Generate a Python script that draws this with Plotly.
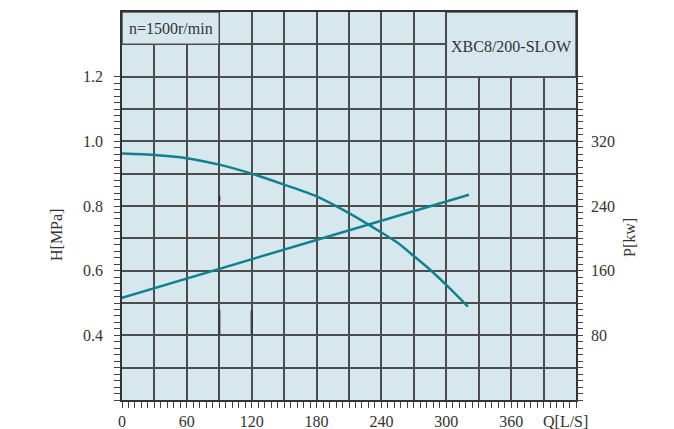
import numpy as np
import plotly.graph_objects as go

# ---- data ----
q_h = [0, 30, 60, 90, 120, 150, 180, 210, 240, 255, 270, 285, 300, 320]
h_vals = [0.962, 0.958, 0.948, 0.928, 0.900, 0.866, 0.830, 0.778, 0.718, 0.686, 0.645, 0.603, 0.556, 0.489]
q_p = [0, 60, 120, 180, 240, 300, 321]
p_vals = [126.5, 150.3, 174.2, 198.0, 221.8, 245.6, 254.0]

x_grid = list(range(0, 420, 30))
x_labels = {0: "0", 60: "60", 120: "120", 180: "180", 240: "240", 300: "300", 360: "360"}
h_grid = [round(0.2 + 0.1 * i, 1) for i in range(12)]
h_labels = {0.4: "0.4", 0.6: "0.6", 0.8: "0.8", 1.0: "1.0", 1.2: "1.2"}
p_ticks = [80, 160, 240, 320]

BG = "#d6e8ee"
GRID = "#4d4d4d"
LINE = "#11808f"
TXT = "#333333"
FONT = "Liberation Serif"

fig = go.Figure()
fig.add_trace(go.Scatter(x=q_h, y=h_vals, mode="lines", line=dict(color=LINE, width=2.5, shape="spline", smoothing=0.6),
                         yaxis="y", showlegend=False, hoverinfo="skip"))
fig.add_trace(go.Scatter(x=q_p, y=p_vals, mode="lines", line=dict(color=LINE, width=2.5),
                         yaxis="y2", showlegend=False, hoverinfo="skip"))

fig.update_layout(
    width=674, height=429,
    margin=dict(l=122, r=98, t=12, b=29, autoexpand=False),
    paper_bgcolor="white", plot_bgcolor=BG,
    font=dict(family=FONT, size=16, color=TXT),
    xaxis=dict(
        range=[0, 420], tickmode="array", tickvals=x_grid,
        ticktext=[x_labels.get(v, "") for v in x_grid],
        ticks="", showgrid=True, gridcolor=GRID, gridwidth=1.5, automargin=False,
        zeroline=False, showline=True, linecolor="#333", linewidth=1.5, mirror=True,
        ticklabelstandoff=6,
        minor=dict(tickmode="array", tickvals=list(np.arange(0, 421, 6)), ticks="outside",
                   ticklen=6, tickcolor="#444", tickwidth=1, showgrid=False),
    ),
    yaxis=dict(
        range=[0.2, 1.4], tickmode="array", tickvals=h_grid,
        ticktext=[h_labels.get(v, "") for v in h_grid],
        ticks="", showgrid=True, gridcolor=GRID, gridwidth=1.5, automargin=False,
        zeroline=False, showline=True, linecolor="#333", linewidth=1.5, mirror=True,
        ticklabelstandoff=14,
        minor=dict(tickmode="array", tickvals=[round(0.2 + 0.02 * i, 2) for i in range(51)], ticks="outside",
                   ticklen=6, tickcolor="#444", tickwidth=1, showgrid=False),
    ),
    yaxis2=dict(
        range=[0, 480], overlaying="y", side="right", tickmode="array", tickvals=p_ticks,
        ticks="", showgrid=False, zeroline=False, showline=False, automargin=False,
        ticklabelstandoff=14,
        minor=dict(tickmode="array", tickvals=list(range(0, 401, 8)), ticks="outside",
                   ticklen=6, tickcolor="#444", tickwidth=1, showgrid=False),
    ),
)

# header boxes (cover grid)
fig.add_shape(type="rect", xref="x", yref="y", x0=0, x1=90, y0=1.3, y1=1.4,
              fillcolor=BG, line=dict(color=GRID, width=1.5), layer="above")
fig.add_shape(type="rect", xref="x", yref="y", x0=300, x1=420, y0=1.2, y1=1.4,
              fillcolor=BG, line=dict(color=GRID, width=1.5), layer="above")

# small dark marks on grid
for x0, y0, y1 in [(90, 0.402, 0.479), (120, 0.402, 0.476), (90, 0.815, 0.832)]:
    fig.add_shape(type="line", xref="x", yref="y", x0=x0, x1=x0, y0=y0, y1=y1,
                  line=dict(color="#3a3a3a", width=2.2), layer="above")

fig.add_annotation(x=45, y=1.35, xref="x", yref="y", text="n=1500r/min", showarrow=False,
                   font=dict(family=FONT, size=16, color=TXT))
fig.add_annotation(x=360, y=1.293, xref="x", yref="y", text="XBC8/200-SLOW", showarrow=False,
                   font=dict(family=FONT, size=16, color=TXT))
fig.add_annotation(x=565, y=421, text="Q[L/S]", showarrow=False,
                   font=dict(family=FONT, size=16, color=TXT))
fig.add_annotation(x=57, y=235, text="H[MPa]", textangle=-90, showarrow=False,
                   font=dict(family=FONT, size=16, color=TXT))
fig.add_annotation(x=630, y=238, text="P[kw]", textangle=-90, showarrow=False,
                   font=dict(family=FONT, size=16, color=TXT))

# convert pixel-positioned labels to paper coordinates
pw, ph = 674 - 122 - 98, 429 - 12 - 29
for ann in fig.layout.annotations[2:]:
    px, py = ann.x, ann.y
    ann.xref = "paper"; ann.yref = "paper"
    ann.xanchor = "center"; ann.yanchor = "middle"
    ann.x = (px - 122) / pw
    ann.y = (429 - 29 - py) / ph

fig.write_html("out.html")
